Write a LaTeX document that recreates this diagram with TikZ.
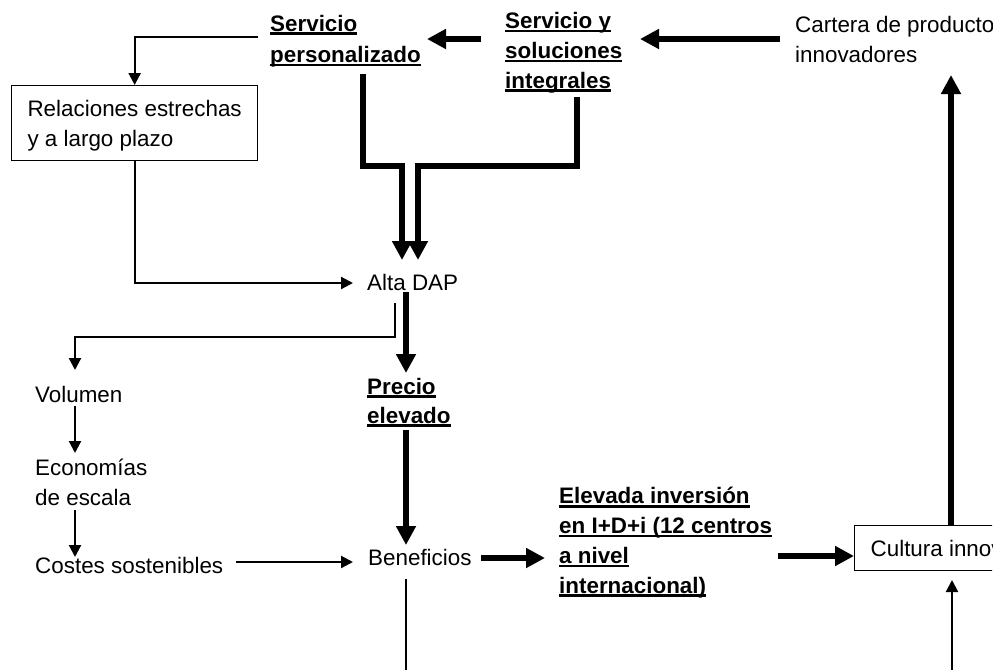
\documentclass[tikz,border=0pt]{standalone}
\usepackage{fontspec}
\setmainfont{Liberation Sans}
\usetikzlibrary{arrows.meta}
% underlined word(s): rule drawn under the box at a fixed offset from the baseline
\newcommand\ulw[1]{\setbox0=\hbox{#1}\rlap{\rule[-3.6pt]{\wd0}{2.2pt}}\box0}
\begin{document}
\begin{tikzpicture}[x=1pt,y=-1pt,
  % multi-line texts are placed by the baseline of their last line
  txt/.style={inner sep=0pt, anchor=base west, align=left, font=\fontsize{22.4}{30}\selectfont},
  hd/.style={txt, font=\fontsize{22.4}{30}\selectfont\bfseries},
  framed/.style={draw, line width=1.3pt, anchor=north west, align=left, inner ysep=0pt,
    font=\fontsize{22.4}{30}\selectfont},
  lnk/.style={line width=2.2pt, -{Triangle[length=12pt,width=12pt]}},
  plain/.style={line width=2.2pt},
  blk/.style={line width=6pt, -{Triangle[length=19pt,width=19pt]}}]
\useasboundingbox (0,0) rectangle (997,670);
\clip (0,0) rectangle (992,670);

% ---- nodes ----
\node[hd, font=\fontsize{22.4}{31.5}\selectfont\bfseries] (sp) at (270,62.5) {\ulw{Servicio}\\\ulw{personalizado}};
\node[hd, font=\fontsize{22.4}{29.8}\selectfont\bfseries] (ssi) at (505,88) {\ulw{Servicio y}\\\ulw{soluciones}\\\ulw{integrales}};
\node[txt] (cart) at (795,62) {Cartera de productos\\innovadores};
\node[framed, minimum width=246pt, minimum height=75pt, inner xsep=15pt, text depth=0pt] (relac) at (11,85) {Relaciones estrechas\\y a largo plazo};
\node[txt] (alta) at (367,290) {Alta DAP};
\node[hd, font=\fontsize{22.4}{29}\selectfont\bfseries] (precio) at (367,423) {\ulw{Precio}\\\ulw{elevado}};
\node[txt] (vol) at (35,402) {Volumen};
\node[txt] (econ) at (35,505) {Economías\\de escala};
\node[txt] (costes) at (35,573) {Costes sostenibles};
\node[txt] (benef) at (368,565) {Beneficios};
\node[hd, font=\fontsize{22.4}{29.7}\selectfont\bfseries] (elev) at (559,593) {\ulw{Elevada inversión}\\\ulw{en I+D+i (12 centros}\\\ulw{a nivel}\\\ulw{internacional)}};
\node[framed, minimum height=45pt, inner xsep=16pt] (cult) at (854,525) {Cultura innovadora};

% ---- connector end points ----
\coordinate (spOut) at (258,37);
\coordinate (spDown) at (363,74);
\coordinate (ssiDown) at (577,97);
\coordinate (altaInL) at (402,260);
\coordinate (altaInR) at (418,260);
\coordinate (altaFromBox) at (353,283);
\coordinate (altaOutL) at (395,303);
\coordinate (altaOutR) at (406,292);
\coordinate (volIn) at (75,370);
\coordinate (volOut) at (75,406);
\coordinate (econIn) at (75,453);
\coordinate (econOut) at (75,510);
\coordinate (costesIn) at (75,557);
\coordinate (costesOut) at (236,562);
\coordinate (benefIn) at (353,562);
\coordinate (precioIn) at (406,373);
\coordinate (precioOut) at (406,430);
\coordinate (benefTop) at (406,545);
\coordinate (benefDown) at (406,579);
\coordinate (benefEnd) at (406,672);
\coordinate (benefOut) at (481,558);
\coordinate (elevIn) at (545,558);
\coordinate (elevOut) at (778,556);
\coordinate (cultIn) at (854,556);
\coordinate (cultUp) at (951,525);
\coordinate (cartIn) at (951,75);
\coordinate (cultBelow) at (952,672);
\coordinate (cultInB) at (952,580);
\coordinate (cartOut) at (780,39);
\coordinate (ssiIn) at (640,39);
\coordinate (ssiOut) at (481,39);
\coordinate (spIn) at (427,39);

% ---- connectors ----
\draw[lnk] (spOut) -| (relac.north);
\draw[blk] (spDown) |- (402,166) -- (altaInL);
\draw[blk] (ssiDown) |- (418,166) -- (altaInR);
\draw[lnk] (relac.south) |- (altaFromBox);
\draw[lnk] (altaOutL) |- (75,337) -- (volIn);
\draw[blk] (altaOutR) -- (precioIn);
\draw[blk] (precioOut) -- (benefTop);
\draw[lnk] (volOut) -- (econIn);
\draw[lnk] (econOut) -- (costesIn);
\draw[lnk] (costesOut) -- (benefIn);
\draw[plain] (benefDown) -- (benefEnd);
\draw[blk] (benefOut) -- (elevIn);
\draw[blk] (elevOut) -- (cultIn);
\draw[blk] (cultUp) -- (cartIn);
\draw[lnk] (cultBelow) -- (cultInB);
\draw[blk] (cartOut) -- (ssiIn);
\draw[blk] (ssiOut) -- (spIn);
\end{tikzpicture}
\end{document}
